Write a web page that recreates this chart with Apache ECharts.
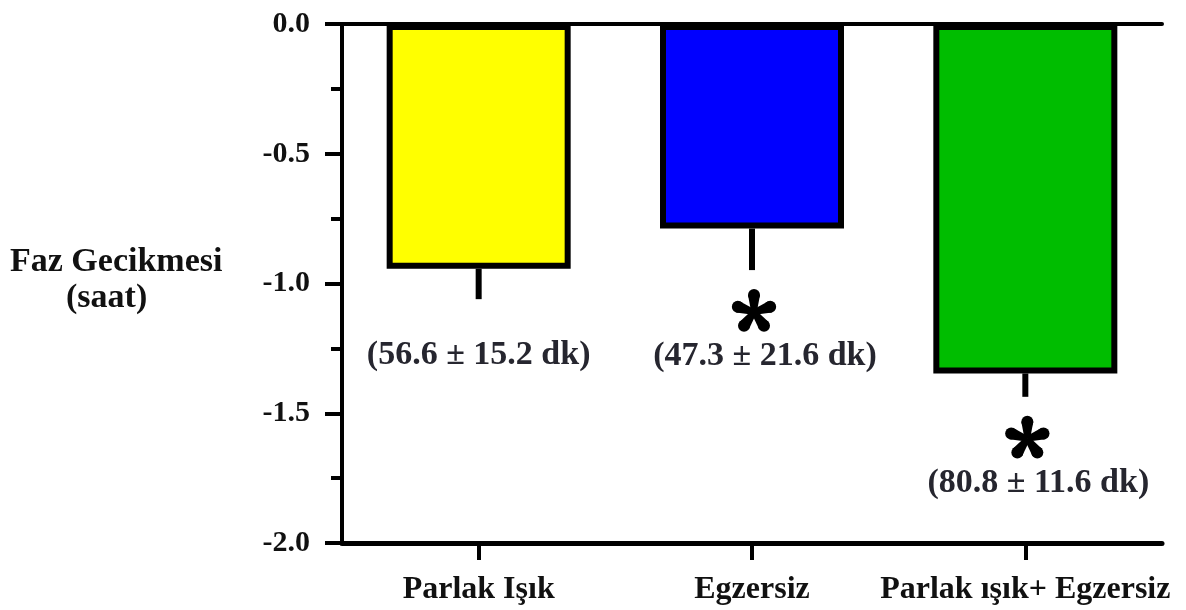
<!DOCTYPE html>
<html>
<head>
<meta charset="utf-8">
<script src="https://cdn.jsdelivr.net/npm/echarts@6/dist/echarts.min.js"></script>
<style>
  html, body { margin: 0; padding: 0; background: #fff; }
  #chart { width: 1186px; height: 610px; }
</style>
</head>
<body>
<div id="chart"></div>
<script>
// Phase delay per condition
const categories = ['Parlak Işık', 'Egzersiz', 'Parlak ışık+ Egzersiz'];
const meanMinutes = [56.6, 47.3, 80.8];          // mean delay, minutes
const sdMinutes = [15.2, 21.6, 11.6];            // reported spread, minutes
const whiskerHours = [0.117, 0.160, 0.090];      // drawn error whisker, hours
const significant = [false, true, true];         // marked with an asterisk
const barColors = ['#ffff00', '#0000ff', '#00bd00'];
const yTicks = { min: -2.0, max: 0.0, step: 0.5 };

const SERIF = "'Liberation Serif', 'DejaVu Serif', serif";
const phaseHours = meanMinutes.map(m => -m / 60);

const chart = echarts.init(document.getElementById('chart'), null, { renderer: 'canvas' });

// Five-armed bold asterisk centred at (cx, cy)
function asterisk(cx, cy) {
  const parts = [];
  for (let k = 0; k < 5; k++) {
    const a = (k * 72) * Math.PI / 180;
    const dx = Math.sin(a), dy = -Math.cos(a);
    const px = -dy, py = dx;
    const L = 17, w0 = 2.8, w1 = 6;
    const ex = cx + dx * L, ey = cy + dy * L;
    parts.push({
      type: 'polygon',
      shape: { points: [
        [cx + px * w0, cy + py * w0],
        [ex + px * w1, ey + py * w1],
        [ex - px * w1, ey - py * w1],
        [cx - px * w0, cy - py * w0]
      ] },
      style: { fill: '#000' }
    });
    parts.push({ type: 'circle', shape: { cx: ex, cy: ey, r: w1 }, style: { fill: '#000' } });
  }
  return parts;
}

const option = {
  animation: false,
  backgroundColor: '#ffffff',
  grid: { left: 342, right: 24, top: 24, bottom: 67, containLabel: false },
  xAxis: [
    {
      type: 'category',
      data: categories,
      position: 'bottom',
      axisLine: { onZero: false, lineStyle: { color: '#000', width: 5 } },
      axisTick: { show: true, alignWithLabel: true, length: 17, lineStyle: { color: '#000', width: 4 } },
      axisLabel: {
        interval: 0, hideOverlap: false,
        margin: 31, color: '#111',
        fontFamily: SERIF, fontWeight: 'bold', fontSize: 32
      },
      splitLine: { show: false }
    },
    {
      type: 'category',
      data: categories,
      position: 'top',
      axisLine: { onZero: false, lineStyle: { color: '#000', width: 4 } },
      axisTick: { show: false },
      axisLabel: { show: false },
      splitLine: { show: false }
    }
  ],
  yAxis: {
    type: 'value',
    min: yTicks.min,
    max: yTicks.max,
    interval: yTicks.step,
    axisLine: { show: true, onZero: false, lineStyle: { color: '#000', width: 4 } },
    axisTick: { show: true, length: 17, lineStyle: { color: '#000', width: 4 } },
    minorTick: { show: true, splitNumber: 2, length: 11, lineStyle: { color: '#000', width: 4 } },
    splitLine: { show: false },
    axisLabel: {
      margin: 32, color: '#111',
      fontFamily: SERIF, fontWeight: 'bold', fontSize: 30,
      formatter: v => v.toFixed(1)
    }
  },
  graphic: [
    {
      type: 'text',
      left: 10, top: 245,
      style: {
        text: 'Faz Gecikmesi',
        fill: '#111', font: "bold 34px 'Liberation Serif', 'DejaVu Serif', serif"
      }
    },
    {
      type: 'text',
      left: 66, top: 281,
      style: {
        text: '(saat)',
        fill: '#111', font: "bold 34px 'Liberation Serif', 'DejaVu Serif', serif"
      }
    }
  ],
  series: [
    {
      type: 'bar',
      xAxisIndex: 0,
      barWidth: 184,
      data: phaseHours.map((v, i) => ({
        value: v,
        itemStyle: { color: barColors[i], borderColor: '#000', borderWidth: 6 }
      })),
      z: 3
    },
    {
      type: 'custom',
      xAxisIndex: 0,
      z: 2,
      data: phaseHours.map((v, i) => [i, v, whiskerHours[i]]),
      renderItem: function (params, api) {
        const i = params.dataIndex;
        const v = api.value(1), e = api.value(2);
        const top = api.coord([i, v]);
        const end = api.coord([i, v - e]);
        const children = [{
          type: 'line',
          shape: { x1: top[0], y1: top[1], x2: end[0], y2: end[1] },
          style: { stroke: '#000', lineWidth: 6 }
        }];
        let labelY = end[1] + 56, labelX = end[0];
        if (significant[i]) {
          const sy = end[1] + 42;
          children.push(...asterisk(end[0] + 2, sy));
          labelY = sy + 44;
          labelX = end[0] + 13;
        }
        children.push({
          type: 'text',
          style: {
            x: labelX, y: labelY,
            text: '(' + meanMinutes[i].toFixed(1) + ' ± ' + sdMinutes[i].toFixed(1) + ' dk)',
            textAlign: 'center', textVerticalAlign: 'middle',
            fill: '#26262f',
            font: "bold 34px 'Liberation Serif', 'DejaVu Serif', serif"
          }
        });
        return { type: 'group', children: children };
      }
    }
  ]
};

chart.setOption(option);
</script>
</body>
</html>
